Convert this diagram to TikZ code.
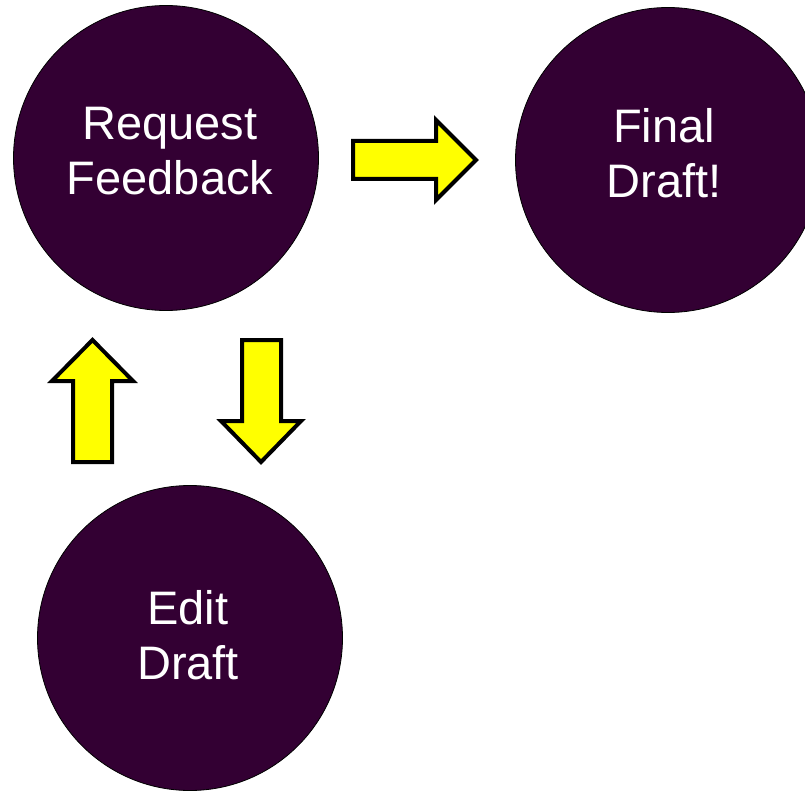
\documentclass[tikz,border=0pt]{standalone}
\usepackage{fontspec}
\setmainfont{Liberation Sans}
\definecolor{plum}{RGB}{51,0,51}
\definecolor{yel}{RGB}{255,255,0}
\begin{document}
\begin{tikzpicture}[x=1pt,y=-1pt,
  stage/.style={circle,draw=black,line width=0.8pt,fill=plum,minimum size=305pt,inner sep=0pt},
  lbl/.style={text=white,align=center,inner sep=0pt,anchor=north,font=\fontsize{47}{55}\selectfont},
  blockarrow/.style={fill=yel,draw=black,line width=4pt,line join=miter}]
\clip (0,0) rectangle (805,791);
\fill[white] (0,0) rectangle (805,791);
\node[stage] (rf) at (166,158) {};
\node[stage] (fd) at (668,160) {};
\node[stage] (ed) at (190,638) {};
\node[lbl] (rft) at (170,107) {Request\\Feedback};
\node[lbl] (fdt) at (664,108) {Final\\Draft!};
\node[lbl] (edt) at (188,590) {Edit\\Draft};
% right arrow
\draw[blockarrow] (353,141) -- (436,141) -- (436,120) -- (476,160) -- (436,200) -- (436,179) -- (353,179) -- cycle;
% up arrow
\draw[blockarrow] (73,462) -- (73,381) -- (52,381) -- (92.5,340) -- (133,381) -- (112,381) -- (112,462) -- cycle;
% down arrow
\draw[blockarrow] (242,340) -- (281,340) -- (281,421) -- (301,421) -- (261,462) -- (221,421) -- (242,421) -- cycle;
\end{tikzpicture}
\end{document}
